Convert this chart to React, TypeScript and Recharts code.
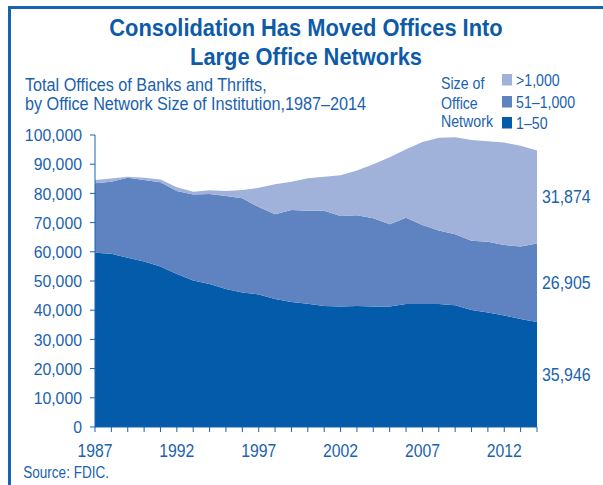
import React from "react"
import { AreaChart, Area, XAxis, YAxis, ReferenceDot } from "recharts"

const years = [1987, 1988, 1989, 1990, 1991, 1992, 1993, 1994, 1995, 1996, 1997, 1998, 1999, 2000, 2001, 2002, 2003, 2004, 2005, 2006, 2007, 2008, 2009, 2010, 2011, 2012, 2013, 2014]
const small = [59700, 59300, 58000, 56700, 55000, 52400, 50200, 49000, 47300, 46100, 45400, 43800, 42800, 42200, 41400, 41300, 41400, 41300, 41300, 42100, 42100, 42100, 41700, 40100, 39200, 38200, 37000, 35946]
const medium = [23800, 24700, 27400, 27900, 28800, 28400, 29400, 30800, 31800, 32200, 29900, 29100, 31500, 31900, 32700, 31000, 31100, 30200, 28100, 29600, 27100, 25200, 24300, 23700, 24200, 24100, 24800, 26905]
const large = [1100, 1100, 300, 800, 1000, 1300, 1000, 1300, 1700, 2900, 6600, 10200, 9700, 11100, 11600, 13900, 15300, 18500, 23000, 23400, 28400, 31800, 33200, 34500, 34500, 35100, 34500, 31874]
const yTicks = [0, 10000, 20000, 30000, 40000, 50000, 60000, 70000, 80000, 90000, 100000]
const labelYears = [1987, 1992, 1997, 2002, 2007, 2012]
const legendItems = [
  { key: "large", label: ">1,000" },
  { key: "medium", label: "51–1,000" },
  { key: "small", label: "1–50" },
]

const BLUE = "#1a62ae"
const TITLE_BLUE = "#0d5ba8"
const COLORS: Record<string, string> = { small: "#035ba9", medium: "#5f83c1", large: "#a1b2da" }
const FONT = "'Liberation Sans', Arial, sans-serif"

const data = years.map((year, i) => ({ year, small: small[i], medium: medium[i], large: large[i] }))
const last = years.length - 1

// narrow text: Liberation Sans squeezed horizontally to look like Helvetica Condensed
const T = ({ x, y, size, sx = 0.87, anchor = "start", bold = false, fill = BLUE, children }: any) => (
  <text
    transform={`translate(${x},${y}) scale(${sx},1)`}
    textAnchor={anchor}
    fontSize={size}
    fontFamily={FONT}
    fontWeight={bold ? "bold" : "normal"}
    fill={fill}
  >
    {children}
  </text>
)

const XTick = (props: any) => {
  const { x, payload } = props
  if (!labelYears.includes(payload.value)) return null
  return <T x={x} y={457} size={17.7} sx={0.89} anchor="middle">{payload.value}</T>
}

const YTick = (props: any) => {
  const { x, y, payload } = props
  return <T x={x} y={y + 6.2} size={17.2} sx={0.92} anchor="end">{payload.value.toLocaleString("en-US")}</T>
}

const endLabel = (value: number) => ({
  content: (p: any) => {
    const vb = p.viewBox || {}
    return <T x={vb.x + 5} y={vb.y + 6.5} size={18.3} sx={0.87}>{value.toLocaleString("en-US")}</T>
  },
})

export default function App() {
  return (
    <div style={{ position: "absolute", left: 0, top: 0, width: 603, height: 485, background: "#fff", overflow: "hidden" }}>
      <div style={{ position: "absolute", left: 8, top: 6, right: 0, bottom: 0, borderTop: `3px solid ${BLUE}`, borderLeft: `3px solid ${BLUE}` }} />
      <svg width={603} height={485} style={{ position: "absolute", left: 0, top: 0 }}>
        <T x={306} y={36} size={24.7} sx={0.885} anchor="middle" bold fill={TITLE_BLUE}>Consolidation Has Moved Offices Into</T>
        <T x={306} y={65} size={24.7} sx={0.885} anchor="middle" bold fill={TITLE_BLUE}>Large Office Networks</T>
        <T x={25} y={90.7} size={18.5} sx={0.877}>Total Offices of Banks and Thrifts,</T>
        <T x={25} y={110} size={18.5} sx={0.877}>by Office Network Size of Institution,1987–2014</T>
        <T x={441} y={89.3} size={16.3} sx={0.87}>Size of</T>
        <T x={441} y={109} size={16.3} sx={0.87}>Office</T>
        <T x={441} y={127} size={16.3} sx={0.87}>Network</T>
        {legendItems.map((d, i) => {
          const top = [74, 96, 117][i]
          return (
            <g key={d.key}>
              <rect x={502} y={top} width={10} height={11.5} fill={COLORS[d.key]} />
              <T x={516} y={top + 11.5} size={16.3} sx={0.87}>{d.label}</T>
            </g>
          )
        })}
        <T x={23.3} y={477.7} size={16.3} sx={0.83}>Source: FDIC.</T>
      </svg>
      <div style={{ position: "absolute", left: 0, top: 0 }}>
        <AreaChart width={603} height={485} data={data} margin={{ top: 135, right: 66, bottom: 28, left: 0 }}>
          <XAxis
            dataKey="year"
            type="number"
            domain={[1987, 2014]}
            ticks={years}
            interval={0}
            height={30}
            tickSize={5}
            tickLine={{ stroke: BLUE }}
            axisLine={{ stroke: BLUE }}
            tick={<XTick />}
          />
          <YAxis
            type="number"
            domain={[0, 100000]}
            ticks={yTicks}
            width={95}
            tickSize={5}
            tickMargin={8}
            tick={<YTick />}
            tickLine={{ stroke: BLUE }}
            axisLine={{ stroke: BLUE }}
          />
          <Area type="linear" dataKey="small" stackId="1" fill={COLORS.small} fillOpacity={1} stroke="none" isAnimationActive={false} />
          <Area type="linear" dataKey="medium" stackId="1" fill={COLORS.medium} fillOpacity={1} stroke="none" isAnimationActive={false} />
          <Area type="linear" dataKey="large" stackId="1" fill={COLORS.large} fillOpacity={1} stroke="none" isAnimationActive={false} />
          <ReferenceDot x={2014} y={small[last] / 2} r={0} fill="none" stroke="none" ifOverflow="visible" label={endLabel(small[last])} />
          <ReferenceDot x={2014} y={small[last] + medium[last] / 2} r={0} fill="none" stroke="none" ifOverflow="visible" label={endLabel(medium[last])} />
          <ReferenceDot x={2014} y={small[last] + medium[last] + large[last] / 2} r={0} fill="none" stroke="none" ifOverflow="visible" label={endLabel(large[last])} />
        </AreaChart>
      </div>
    </div>
  )
}
